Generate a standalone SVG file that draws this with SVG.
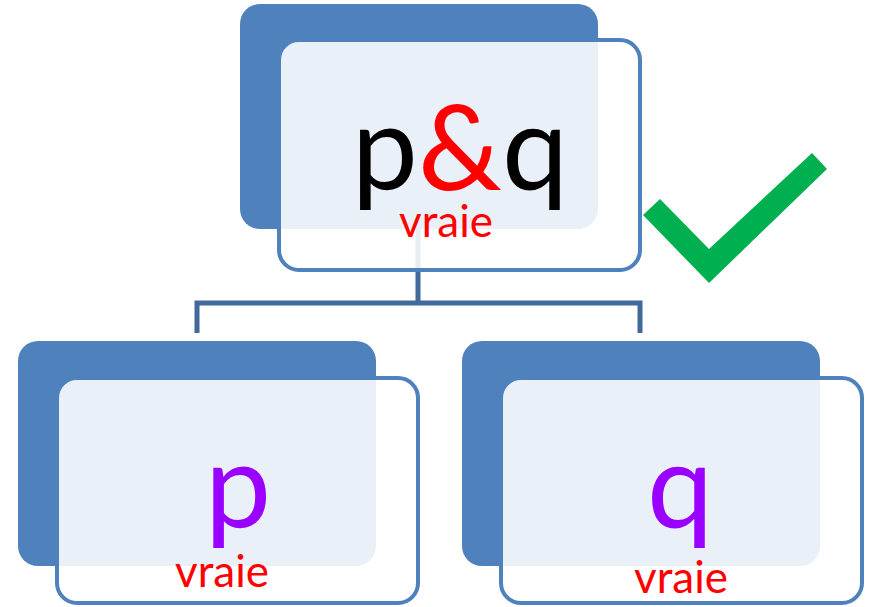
<svg xmlns="http://www.w3.org/2000/svg" width="871" height="607" viewBox="0 0 871 607">
  <style>
    .back { fill: #4F81BD; }
    .front { fill: #FFFFFF; fill-opacity: 0.88; stroke: #4F81BD; stroke-width: 4; }
    .link { fill: none; stroke: #41699C; stroke-width: 5; }
    .big { font-family: Lato, "Open Sans", "Liberation Sans", sans-serif; font-size: 118px; text-anchor: middle; }
    .val { font-family: Lato, "Open Sans", "Liberation Sans", sans-serif; font-size: 44px; fill: #FF0000; text-anchor: middle; }
    .var { fill: #9900FF; }
  </style>

  <!-- tree connectors, drawn under the node cards -->
  <g id="connectors">
    <path class="link" d="M418 229 V303 M197 333 V303 H640 V333"/>
  </g>

  <!-- root: p & q -->
  <g id="node-pq">
    <rect class="back" x="240" y="4" width="358" height="225" rx="20"/>
    <rect class="front" x="279" y="40" width="361" height="230" rx="20"/>
    <text class="big" x="460" y="190"><tspan fill="#000000">p</tspan><tspan fill="#FF0000">&amp;</tspan><tspan fill="#000000">q</tspan></text>
    <text class="val" x="446" y="237">vraie</text>
  </g>

  <!-- left child: p -->
  <g id="node-p">
    <rect class="back" x="18" y="341" width="358" height="225" rx="20"/>
    <rect class="front" x="57" y="378" width="361" height="225" rx="20"/>
    <text class="big var" x="238" y="528">p</text>
    <text class="val" x="222" y="587">vraie</text>
  </g>

  <!-- right child: q -->
  <g id="node-q">
    <rect class="back" x="462" y="341" width="358" height="225" rx="20"/>
    <rect class="front" x="501" y="378" width="361" height="225" rx="20"/>
    <text class="big var" x="680" y="528">q</text>
    <text class="val" x="681" y="593">vraie</text>
  </g>

  <!-- green tick -->
  <g id="check">
    <polygon fill="#00B050" points="643,215 660,199 709,249 812,153 827,169 709,283"/>
  </g>
</svg>
